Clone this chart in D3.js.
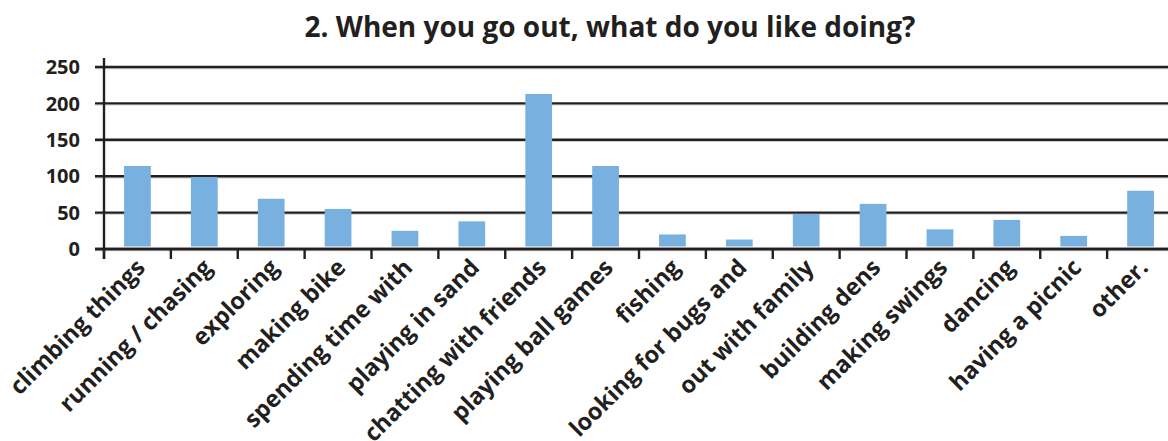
<!DOCTYPE html>
<html>
<head>
<meta charset="utf-8">
<script src="https://cdn.jsdelivr.net/npm/d3@7"></script>
<style>
  html, body { margin: 0; padding: 0; background: #fff; }
  svg { display: block; }
  text { font-family: "Open Sans", "Noto Sans", sans-serif; font-weight: 700; fill: #231f20; }
</style>
</head>
<body>
<svg id="chart" width="1168" height="441"></svg>
<script>
const title = "2. When you go out, what do you like doing?";
const categories = [
  "climbing things", "running / chasing", "exploring", "making bike",
  "spending time with", "playing in sand", "chatting with friends", "playing ball games",
  "fishing", "looking for bugs and", "out with family", "building dens",
  "making swings", "dancing", "having a picnic", "other."
];
const counts = [114, 99, 69, 55, 25, 38, 213, 114, 20, 13, 48, 62, 27, 40, 18, 80];
const yTicks = [0, 50, 100, 150, 200, 250];

const svg = d3.select("#chart");
const ink = "#231f20";
const barColor = "#78b1df";

const plotLeft = 104, plotRight = 1174, plotTop = 67, plotBottom = 249;

const x = d3.scaleBand()
  .domain(categories)
  .range([plotLeft, plotRight])
  .paddingInner(0.6)
  .paddingOuter(0.3);

const y = d3.scaleLinear().domain([0, 250]).range([plotBottom, plotTop]);

// title
svg.append("text")
  .attr("x", 610)
  .attr("y", 37)
  .attr("text-anchor", "middle")
  .style("font-size", "28px")
  .text(title);

// horizontal gridlines with a faint shadow under each
const grid = svg.append("g");
grid.selectAll("line.shadow")
  .data(yTicks)
  .join("line")
  .attr("class", "shadow")
  .attr("x1", 95).attr("x2", 1168)
  .attr("y1", d => y(d) + 1.6).attr("y2", d => y(d) + 1.6)
  .attr("stroke", "#cfcfcf").attr("stroke-width", 1.2);
grid.selectAll("line.rule")
  .data(yTicks)
  .join("line")
  .attr("class", "rule")
  .attr("x1", 95).attr("x2", 1168)
  .attr("y1", d => y(d)).attr("y2", d => y(d))
  .attr("stroke", ink).attr("stroke-width", 2.4);

// y tick labels
svg.append("g").selectAll("text")
  .data(yTicks)
  .join("text")
  .attr("x", 80)
  .attr("y", d => y(d))
  .attr("dy", "0.36em")
  .attr("text-anchor", "end")
  .style("font-size", "20px")
  .text(d => d);

// bars
svg.append("g").selectAll("rect")
  .data(categories.map((c, i) => ({ c, v: counts[i] })))
  .join("rect")
  .attr("x", d => x(d.c))
  .attr("width", x.bandwidth())
  .attr("y", d => y(d.v))
  .attr("height", d => Math.max(0, y(0) - 2.5 - y(d.v)))
  .attr("fill", barColor);

// axes lines
svg.append("line")
  .attr("x1", plotLeft).attr("x2", plotLeft)
  .attr("y1", 58).attr("y2", 259)
  .attr("stroke", ink).attr("stroke-width", 2.4);
svg.append("line")
  .attr("x1", 95).attr("x2", 1168)
  .attr("y1", y(0)).attr("y2", y(0))
  .attr("stroke", ink).attr("stroke-width", 2.6);

// x ticks at category boundaries
const gap = (x.step() - x.bandwidth()) / 2;
svg.append("g").selectAll("line")
  .data(categories)
  .join("line")
  .attr("x1", d => x(d) - gap).attr("x2", d => x(d) - gap)
  .attr("y1", y(0)).attr("y2", y(0) + 10)
  .attr("stroke", ink).attr("stroke-width", 2.4);

// rotated category labels
svg.append("g").selectAll("text")
  .data(categories)
  .join("text")
  .attr("transform", d => `translate(${x(d) + x.bandwidth() / 2 + 9},${y(0) + 20}) rotate(-45)`)
  .attr("text-anchor", "end")
  .style("font-size", "23.5px")
  .text(d => d);
</script>
</body>
</html>
